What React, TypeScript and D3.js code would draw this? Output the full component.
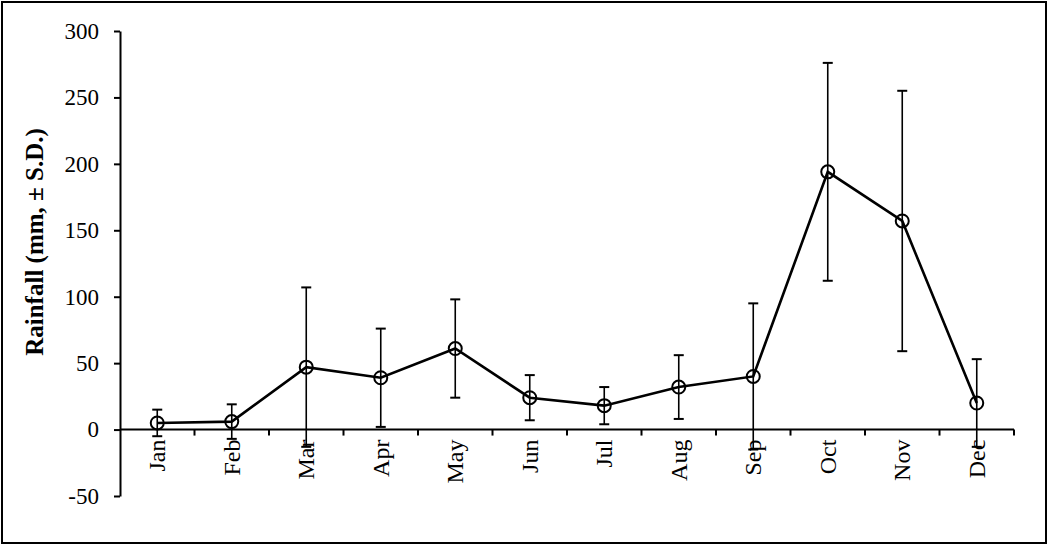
import React, { useEffect, useRef } from 'react';
import * as d3 from 'd3';

const months = ['Jan', 'Feb', 'Mar', 'Apr', 'May', 'Jun', 'Jul', 'Aug', 'Sep', 'Oct', 'Nov', 'Dec'];
const rainfall = [5, 6, 47, 39, 61, 24, 18, 32, 40, 194, 157, 20];
const rainfallSD = [10, 13, 60, 37, 37, 17, 14, 24, 55, 82, 98, 33];
const yTicks = [-50, 0, 50, 100, 150, 200, 250, 300];

const W = 1048;
const H = 545;

const App: React.FC = () => {
  const svgRef = useRef<SVGSVGElement | null>(null);

  useEffect(() => {
    const svgEl = svgRef.current;
    if (!svgEl) return;
    const svg = d3.select(svgEl);
    svg.selectAll('*').remove();

    const font = '"Liberation Serif", "Times New Roman", serif';
    const left = 120;
    const right = 1014;

    const x = d3.scaleBand<string>().domain(months).range([left, right]);
    const y = d3.scaleLinear().domain([-50, 300]).range([496, 31]);

    // outer frame
    svg.append('rect')
      .attr('x', 2).attr('y', 2)
      .attr('width', W - 4).attr('height', H - 4)
      .attr('fill', 'white').attr('stroke', '#000').attr('stroke-width', 2);

    // y axis (plain hyphen for negatives, like the original)
    const yAxis = svg.append('g')
      .attr('transform', `translate(${left},0)`)
      .call(
        d3.axisLeft(y)
          .tickValues(yTicks)
          .tickFormat((d) => String(d))
          .tickSize(6)
          .tickPadding(15)
          .tickSizeOuter(0)
      );
    yAxis.selectAll('path,line').attr('stroke', '#000').attr('stroke-width', 2);
    yAxis.selectAll('text')
      .attr('fill', '#000')
      .attr('font-family', font)
      .attr('font-size', 23);

    // x axis at zero, ticks at band boundaries
    const xg = svg.append('g');
    xg.append('line')
      .attr('x1', left).attr('x2', right)
      .attr('y1', y(0)).attr('y2', y(0))
      .attr('stroke', '#000').attr('stroke-width', 2);
    const bounds = months.map((m) => (x(m) as number) + x.bandwidth());
    xg.selectAll('line.tick')
      .data(bounds)
      .join('line')
      .attr('class', 'tick')
      .attr('x1', (d) => d).attr('x2', (d) => d)
      .attr('y1', y(0)).attr('y2', y(0) + 6)
      .attr('stroke', '#000').attr('stroke-width', 2);
    xg.selectAll('text')
      .data(months)
      .join('text')
      .attr('transform', (d) => `translate(${(x(d) as number) + x.bandwidth() / 2 + 8},${y(0) + 10}) rotate(-90)`)
      .attr('text-anchor', 'end')
      .attr('font-family', font)
      .attr('font-size', 24)
      .attr('fill', '#000')
      .text((d) => d);

    // y title
    svg.append('text')
      .attr('transform', `translate(43,242) rotate(-90)`)
      .attr('text-anchor', 'middle')
      .attr('font-family', font)
      .attr('font-size', 25)
      .attr('font-weight', 'bold')
      .attr('fill', '#000')
      .text('Rainfall (mm, ± S.D.)');

    const cx = (i: number) => (x(months[i]) as number) + x.bandwidth() / 2;

    // error bars
    const eb = svg.append('g');
    rainfall.forEach((v, i) => {
      const sd = rainfallSD[i];
      eb.append('line')
        .attr('x1', cx(i)).attr('x2', cx(i))
        .attr('y1', y(v + sd)).attr('y2', y(v - sd))
        .attr('stroke', '#000').attr('stroke-width', 1.6);
      [v + sd, v - sd].forEach((e) => {
        eb.append('line')
          .attr('x1', cx(i) - 5).attr('x2', cx(i) + 5)
          .attr('y1', y(e)).attr('y2', y(e))
          .attr('stroke', '#000').attr('stroke-width', 2);
      });
    });

    // line
    const line = d3.line<number>()
      .x((_, i) => cx(i))
      .y((d) => y(d));
    svg.append('path')
      .datum(rainfall)
      .attr('d', line)
      .attr('fill', 'none')
      .attr('stroke', '#000')
      .attr('stroke-width', 2.6);

    // markers
    svg.append('g')
      .selectAll('circle')
      .data(rainfall)
      .join('circle')
      .attr('cx', (_, i) => cx(i))
      .attr('cy', (d) => y(d))
      .attr('r', 6.5)
      .attr('fill', 'none')
      .attr('stroke', '#000')
      .attr('stroke-width', 2);
  }, []);

  return (
    <svg
      ref={svgRef}
      width={W}
      height={H}
      style={{ position: 'absolute', left: 0, top: 0, background: 'white' }}
    />
  );
};

export default App;
